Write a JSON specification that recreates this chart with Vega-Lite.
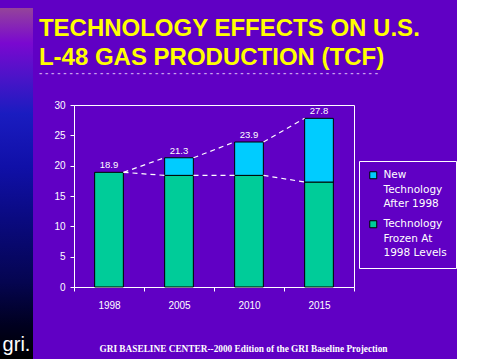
{
  "$schema": "https://vega.github.io/schema/vega-lite/v6.json",
  "background": "#6000c4",
  "padding": {"top": 7, "left": 0, "right": 0, "bottom": 0},
  "spacing": 5,
  "datasets": {
    "bars": [
      {"year": "1998", "component": "Technology Frozen At 1998 Levels", "value": 18.9},
      {"year": "2005", "component": "Technology Frozen At 1998 Levels", "value": 18.4},
      {"year": "2005", "component": "New Technology After 1998", "value": 2.9},
      {"year": "2010", "component": "Technology Frozen At 1998 Levels", "value": 18.4},
      {"year": "2010", "component": "New Technology After 1998", "value": 5.5},
      {"year": "2015", "component": "Technology Frozen At 1998 Levels", "value": 17.3},
      {"year": "2015", "component": "New Technology After 1998", "value": 10.5}
    ],
    "totals": [
      {"year": "1998", "total": 18.9},
      {"year": "2005", "total": 21.3},
      {"year": "2010", "total": 23.9},
      {"year": "2015", "total": 27.8}
    ],
    "series": [
      {"from": "1998", "to": "2005", "start": 18.9, "end": 21.3},
      {"from": "2005", "to": "2010", "start": 21.3, "end": 23.9},
      {"from": "2010", "to": "2015", "start": 23.9, "end": 27.8},
      {"from": "1998", "to": "2005", "start": 18.9, "end": 18.4},
      {"from": "2005", "to": "2010", "start": 18.4, "end": 18.4},
      {"from": "2010", "to": "2015", "start": 18.4, "end": 17.3}
    ],
    "strip": [{"x0": 0, "x1": 1, "y0": 0, "y1": 359, "logo": "gri.", "lx": 0.5, "ly": 15}]
  },
  "hconcat": [
    {
      "width": 33,
      "height": 255,
      "view": {"stroke": null},
      "data": {"name": "strip"},
      "layer": [
        {
          "mark": {
            "type": "rect",
            "fill": {
              "gradient": "linear", "x1": 0, "y1": 0, "x2": 0, "y2": 1,
              "stops": [
                {"offset": 0, "color": "#94449a"},
                {"offset": 0.1, "color": "#7a08d0"},
                {"offset": 0.2, "color": "#4a14c8"},
                {"offset": 0.3, "color": "#1a1cc0"},
                {"offset": 0.45, "color": "#1010a8"},
                {"offset": 0.6, "color": "#0a0a80"},
                {"offset": 0.78, "color": "#050550"},
                {"offset": 0.9, "color": "#000020"},
                {"offset": 1, "color": "#000000"}
              ]
            }
          },
          "encoding": {
            "x": {"field": "x0", "type": "quantitative", "scale": {"domain": [0, 1]}, "axis": null},
            "x2": {"field": "x1"},
            "y": {"field": "y0", "type": "quantitative", "scale": {"domain": [0, 255]}, "axis": null},
            "y2": {"field": "y1"}
          }
        },
        {
          "mark": {"type": "text", "color": "white", "font": "Liberation Sans", "fontSize": 20, "baseline": "middle", "align": "center"},
          "encoding": {
            "x": {"field": "lx", "type": "quantitative"},
            "y": {"field": "ly", "type": "quantitative"},
            "text": {"field": "logo"}
          }
        }
      ]
    },
    {
      "width": 280,
      "height": 182,
      "title": {
        "text": ["TECHNOLOGY EFFECTS ON U.S.", "L-48 GAS PRODUCTION (TCF)"],
        "subtitle": "- - - - - - - - - - - - - - - - - - - - - - - - - - - - - - - - - - - - - - - - - - - - - - - - - - - - - - - -",
        "anchor": "start",
        "dx": -15,
        "font": "Liberation Sans",
        "fontSize": 24,
        "fontWeight": "bold",
        "color": "#ffff00",
        "lineHeight": 29,
        "subtitleFont": "DejaVu Sans",
        "subtitleFontWeight": "bold",
        "subtitleFontSize": 8,
        "subtitleColor": "#c8a0f0",
        "subtitlePadding": 0,
        "offset": 22
      },
      "layer": [
        {
          "data": {"name": "bars"},
          "mark": {"type": "bar", "width": {"band": 0.41}, "stroke": "black", "strokeWidth": 1},
          "encoding": {
            "x": {
              "field": "year", "type": "nominal",
              "scale": {"domain": ["1998", "2005", "2010", "2015"], "paddingInner": 0, "paddingOuter": 0},
              "axis": {
                "title": "GRI BASELINE CENTER--2000 Edition of the GRI Baseline Projection",
                "labelAngle": 0,
                "tickBand": "extent",
                "tickSize": 4,
                "labelPadding": 9,
                "titleColor": "white",
                "titleFont": "Liberation Serif",
                "titleFontWeight": "bold",
                "titleFontSize": 9.3,
                "titlePadding": 34,
                "titleX": 169
              }
            },
            "y": {
              "field": "value", "type": "quantitative", "stack": "zero",
              "scale": {"domain": [0, 30]},
              "axis": {"title": null, "values": [0, 5, 10, 15, 20, 25, 30], "tickSize": 4, "labelPadding": 5, "labelOverlap": false}
            },
            "color": {
              "field": "component", "type": "nominal",
              "scale": {"domain": ["New Technology After 1998", "Technology Frozen At 1998 Levels"], "range": ["#00ccff", "#00cc99"]},
              "legend": {
                "title": null,
                "orient": "none",
                "legendX": 359,
                "legendY": 56,
                "strokeColor": "white",
                "padding": 9,
                "symbolType": "square",
                "symbolSize": 49,
                "symbolStrokeColor": "black",
                "symbolStrokeWidth": 1,
                "labelColor": "white",
                "labelFont": "DejaVu Sans",
                "labelFontSize": 10.5,
                "labelOffset": 5,
                "rowPadding": 8,
                "labelExpr": "datum.label == 'New Technology After 1998' ? ['New', 'Technology', 'After 1998'] : ['Technology', 'Frozen At', '1998 Levels']"
              }
            },
            "order": {"field": "component", "sort": "descending"}
          }
        },
        {
          "data": {"name": "series"},
          "mark": {"type": "rule", "color": "white", "strokeDash": [5, 4], "strokeWidth": 1.2, "xOffset": 14.5, "x2Offset": -14.5},
          "encoding": {
            "x": {"field": "from", "type": "nominal"},
            "x2": {"field": "to"},
            "y": {
              "field": "start", "type": "quantitative",
              "axis": {"title": null, "values": [0, 5, 10, 15, 20, 25, 30], "tickSize": 4, "labelPadding": 5, "labelOverlap": false}
            },
            "y2": {"field": "end"}
          }
        },
        {
          "data": {"name": "totals"},
          "mark": {"type": "text", "color": "white", "font": "Liberation Sans", "fontSize": 9.5, "baseline": "bottom", "dy": -2},
          "encoding": {
            "x": {"field": "year", "type": "nominal"},
            "y": {
              "field": "total", "type": "quantitative",
              "axis": {"title": null, "values": [0, 5, 10, 15, 20, 25, 30], "tickSize": 4, "labelPadding": 5, "labelOverlap": false}
            },
            "text": {"field": "total", "type": "quantitative", "format": ".1f"}
          }
        }
      ]
    }
  ],
  "config": {
    "view": {"stroke": "white"},
    "axis": {
      "labelFont": "Liberation Sans",
      "labelFontSize": 10,
      "labelColor": "white",
      "domainColor": "white",
      "tickColor": "white",
      "grid": false
    },
    "style": {"guide-label": {"lineHeight": 14.5}}
  }
}
